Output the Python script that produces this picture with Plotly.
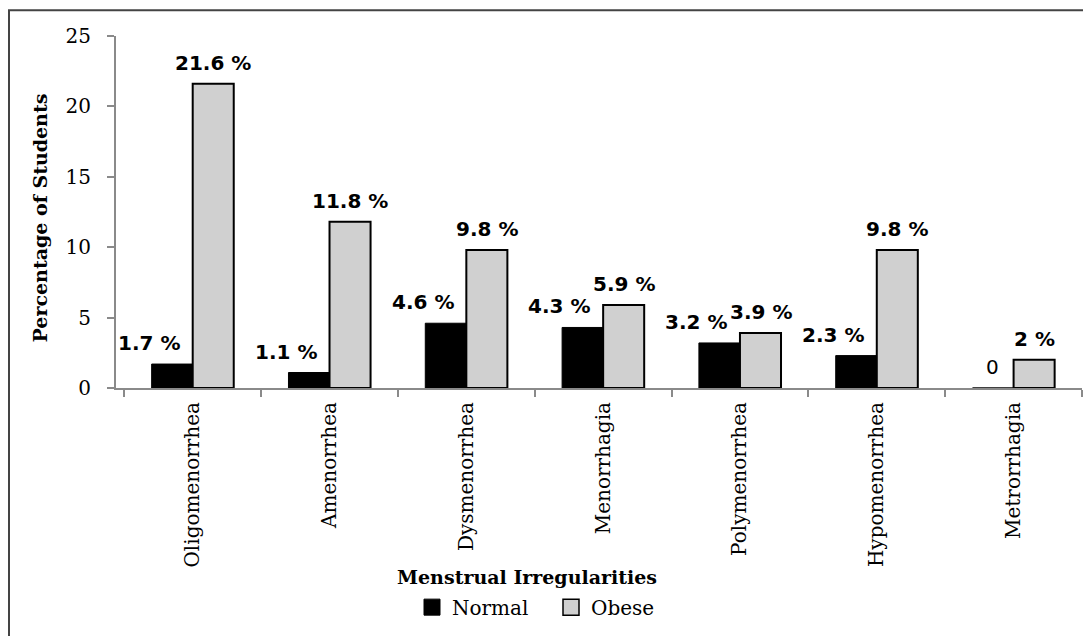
import plotly.graph_objects as go

categories = ["Oligomenorrhea", "Amenorrhea", "Dysmenorrhea", "Menorrhagia",
              "Polymenorrhea", "Hypomenorrhea", "Metrorrhagia"]
normal = [1.7, 1.1, 4.6, 4.3, 3.2, 2.3, 0]
obese = [21.6, 11.8, 9.8, 5.9, 3.9, 9.8, 2]
normal_labels = ["1.7 %", "1.1 %", "4.6 %", "4.3 %", "3.2 %", "2.3 %", "0"]
obese_labels = ["21.6 %", "11.8 %", "9.8 %", "5.9 %", "3.9 %", "9.8 %", "2 %"]
y_ticks = [0, 5, 10, 15, 20, 25]

# page body has an 8px margin, so the figure is offset by 8px
OFF = 8
W, H = 1091 - OFF, 636 - OFF
ML, MT = 116 - OFF, 36 - OFF
PLOT_RIGHT, PLOT_BOTTOM = 1082 - OFF, 391 - OFF
MR, MB = W - PLOT_RIGHT, H - PLOT_BOTTOM
PW = PLOT_RIGHT - ML
PH = PLOT_BOTTOM - MT
BARGAP = 0.4
cat_px = PW / len(categories)
bar_px = cat_px * (1 - BARGAP) / 2

def px_to_paper_x(px):  # px in screenshot coordinates
    return (px - OFF - ML) / PW

def px_to_paper_y(py):
    return (PLOT_BOTTOM - (py - OFF)) / PH

SERIF = "DejaVu Serif"
SANS = "DejaVu Sans"

fig = go.Figure()
fig.add_trace(go.Bar(x=categories, y=normal, name="Normal",
                     marker=dict(color="black", line=dict(color="black", width=1)),
                     showlegend=False))
fig.add_trace(go.Bar(x=categories, y=obese, name="Obese",
                     marker=dict(color="#d0d0d0", line=dict(color="black", width=2)),
                     showlegend=False))
# legend entries
fig.add_trace(go.Scatter(x=[None], y=[None], mode="markers", name="Normal",
                         marker=dict(symbol="square", size=16, color="black",
                                     line=dict(color="black", width=1))))
fig.add_trace(go.Scatter(x=[None], y=[None], mode="markers", name="Obese",
                         marker=dict(symbol="square", size=16, color="#d0d0d0",
                                     line=dict(color="black", width=1.5))))

annotations = []
for c, v, t in zip(categories, normal, normal_labels):
    extra = 0 if v == 0 else -23
    annotations.append(dict(x=c, y=v, xref="x", yref="y", text=t, showarrow=False,
                            xshift=-bar_px / 2 + extra, yshift=21, yanchor="middle",
                            font=dict(family=SANS, size=20, color="black",
                                      weight="normal" if v == 0 else "bold")))
for c, v, t in zip(categories, obese, obese_labels):
    annotations.append(dict(x=c, y=v, xref="x", yref="y", text=t, showarrow=False,
                            xshift=bar_px / 2, yshift=21, yanchor="middle",
                            font=dict(family=SANS, size=20, color="black", weight="bold")))

annotations.append(dict(text="<b>Percentage of Students</b>", textangle=-90,
                        x=px_to_paper_x(40), y=px_to_paper_y(220), xref="paper", yref="paper",
                        showarrow=False, xanchor="center", yanchor="middle",
                        font=dict(family=SERIF, size=19, color="black")))
annotations.append(dict(text="<b>Menstrual Irregularities</b>",
                        x=px_to_paper_x(527), y=px_to_paper_y(582), xref="paper", yref="paper",
                        showarrow=False, xanchor="center", yanchor="middle",
                        font=dict(family=SERIF, size=19, color="black")))

fig.update_layout(
    width=W, height=H,
    margin=dict(l=ML, r=MR, t=MT, b=MB),
    plot_bgcolor="white", paper_bgcolor="white",
    barmode="group", bargap=BARGAP, bargroupgap=0,
    font=dict(family=SERIF, size=20, color="black"),
    showlegend=True,
    legend=dict(orientation="h", x=px_to_paper_x(551), y=px_to_paper_y(612),
                xanchor="center", yanchor="middle", bgcolor="rgba(0,0,0,0)",
                font=dict(family=SERIF, size=20, color="black"),
                itemwidth=30, tracegroupgap=0, entrywidth=94),
    annotations=annotations,
    shapes=[dict(type="rect", xref="paper", yref="paper",
                 x0=px_to_paper_x(9), x1=px_to_paper_x(1300),
                 y0=px_to_paper_y(900), y1=px_to_paper_y(10),
                 line=dict(color="#444444", width=2), fillcolor="rgba(0,0,0,0)", layer="below")],
)
fig.update_xaxes(type="category", categoryorder="array", categoryarray=categories,
                 showline=True, linecolor="#8a8a8a", linewidth=2,
                 ticks="outside", tickson="boundaries", ticklen=7, tickcolor="#8a8a8a", tickwidth=2,
                 tickangle=-90, ticklabelstandoff=4,
                 tickfont=dict(family=SERIF, size=20, color="black"),
                 showgrid=False, zeroline=False)
fig.update_yaxes(range=[0, 25], tickvals=y_ticks, ticktext=[str(v) for v in y_ticks],
                 showline=True, linecolor="#8a8a8a", linewidth=2,
                 ticks="outside", ticklen=7, tickcolor="#8a8a8a", tickwidth=2,
                 ticklabelstandoff=12,
                 tickfont=dict(family=SERIF, size=20, color="black"),
                 showgrid=False, zeroline=False)

fig.write_html("out.html")
